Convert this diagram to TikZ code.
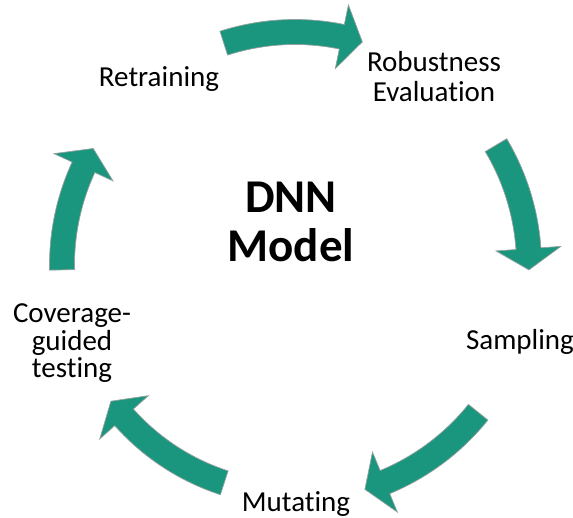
\documentclass[tikz,border=0pt]{standalone}
\usepackage{fontspec}
\setmainfont{Carlito}[Ligatures=NoCommon]
\definecolor{cycleteal}{RGB}{26,150,126}
\definecolor{cycleedge}{RGB}{150,160,158}
\tikzset{
  arrowfill/.style={fill=cycleteal, draw=cycleedge, line width=0.7pt, line join=miter},
  steplabel/.style={font=\fontsize{29}{30}\selectfont, align=center, inner sep=0pt, anchor=base},
  hublabel/.style={font=\fontsize{47}{49}\selectfont\bfseries, align=center, inner sep=0pt, anchor=base}
}
% Curved block arrow around the hub, running clockwise.
% #1 tail angle, #2 tip angle, #3 radius of the centre line
\newcommand\cyclearrow[3]{%
  \pgfmathsetmacro\headbase{#2+5.2}%
  \pgfmathsetmacro\rout{#3+12.5}%
  \pgfmathsetmacro\rin{#3-12.5}%
  \pgfmathsetmacro\wout{#3+32.5}%
  \pgfmathsetmacro\win{#3-32.5}%
  \path[arrowfill] (#1:\rout pt) arc[start angle=#1, end angle=\headbase, radius=\rout pt]
    -- (\headbase:\wout pt) -- (#2:#3pt) -- (\headbase:\win pt) -- (\headbase:\rin pt)
    arc[start angle=\headbase, end angle=#1, radius=\rin pt] -- cycle;
}
\begin{document}
\begin{tikzpicture}[x=1pt,y=1pt]
  \useasboundingbox (0,0) rectangle (573,517);
  \coordinate (hub) at (295,252);

  \begin{scope}[shift={(hub)}]
    \cyclearrow{107.8}{73.2}{233}
    \cyclearrow{30.8}{-1.2}{234}
    \cyclearrow{-38.8}{-72.7}{235}
    \cyclearrow{-108}{-143.5}{229}
    \cyclearrow{181.2}{150}{233}
  \end{scope}

  % multi-line labels are placed by the baseline of their last line
  \node[hublabel] (model) at (291,255) {DNN\\Model};
  \node[steplabel] (retrain) at (159,430) {Retraining};
  \node[steplabel] (robust) at (434,415) {Robustness\\Evaluation};
  \node[steplabel] (sample) at (520,167) {Sampling};
  \node[steplabel] (mutate) at (296,6) {Mutating};
  \node[steplabel, font=\fontsize{29}{28}\selectfont] (cover) at (72,139) {Coverage-\\guided\\testing};
\end{tikzpicture}
\end{document}
